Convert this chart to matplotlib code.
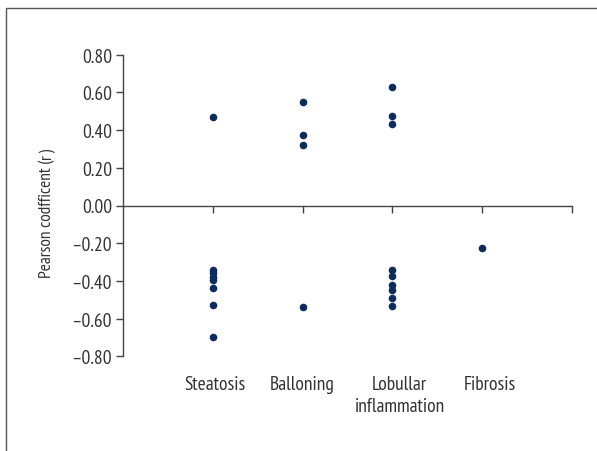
import matplotlib
matplotlib.use("Agg")
import matplotlib.pyplot as plt
from matplotlib import font_manager
from matplotlib.patches import Rectangle
from matplotlib.transforms import blended_transform_factory

categories = ["Steatosis", "Balloning", "Lobullar\ninflammation", "Fibrosis"]
steatosis = [0.47, -0.34, -0.36, -0.38, -0.395, -0.44, -0.53, -0.70]
balloning = [0.55, 0.375, 0.32, -0.54]
lobular = [0.63, 0.475, 0.43, -0.34, -0.375, -0.42, -0.45, -0.49, -0.535]
fibrosis = [-0.227]
series = [steatosis, balloning, lobular, fibrosis]
yticks = [-0.8, -0.6, -0.4, -0.2, 0.0, 0.2, 0.4, 0.6, 0.8]

names = {f.name for f in font_manager.fontManager.ttflist}
fam = 'DejaVu Sans'
for cand in ['PT Sans Narrow', 'Open Sans Condensed', 'Roboto Condensed', 'Archivo Narrow',
             'Asap Condensed', 'Barlow Condensed']:
    if cand in names:
        fam = cand
        break
plt.rcParams['font.family'] = [fam, 'DejaVu Sans']

txt = '#333333'
W, H = 597, 452
fig = plt.figure(figsize=(5.97, 4.52), dpi=100)
# partial frame around figure
fig.patches.append(Rectangle((6/W, -0.1), 1.2, 1 - 9/H + 0.1, transform=fig.transFigure,
                             fill=False, edgecolor='#555555', linewidth=1.0))
ax = fig.add_axes([123/W, 1 - 357.3/H, (572-123)/W, (357.3-55.7)/H])
ax.set_xlim(0, 5)
ax.set_ylim(-0.8, 0.8)
for i, vals in enumerate(series):
    ax.scatter([i + 1] * len(vals), vals, s=30, color='#0b2c5c', zorder=3, linewidths=0)

ax.spines['top'].set_visible(False)
ax.spines['right'].set_visible(False)
ax.spines['bottom'].set_position(('data', 0))
for s in ('left', 'bottom'):
    ax.spines[s].set_color('#444444')
    ax.spines[s].set_linewidth(1.0)
ax.set_xticks([1, 2, 3, 4, 5])
ax.set_xticklabels([])
ax.tick_params(axis='x', direction='out', length=5, color='#444444', width=1)
ax.set_yticks(yticks)
ax.set_yticklabels([f"{v:.2f}".replace('-', '\u2013') for v in yticks], fontsize=14, color=txt)
ax.tick_params(axis='y', direction='out', length=5, color='#444444', width=1, pad=3)

# y label in three pieces so that "r" is italic
pieces = [("Pearson codfficent (", 'normal'), ("r", 'italic'), (")", 'normal')]
xlab = 47 / W
texts = []
for s, st in pieces:
    texts.append(fig.text(xlab, 0.5, s, rotation=90, ha='center', va='bottom',
                          fontsize=12.5, color=txt, style=st, rotation_mode='default'))
fig.canvas.draw()
r = fig.canvas.get_renderer()
heights = [t.get_window_extent(r).height for t in texts]
total = sum(heights) + 1.5
ystart = (H - 213.5) - total / 2
y = ystart
for t, h in zip(texts, heights):
    t.set_y(y / H)
    y += h + (0.75 if t is texts[0] or t is texts[1] else 0)

tr = blended_transform_factory(ax.transData, ax.transAxes)
offs = [0.02, 0.0, 0.08, 0.08]
for i, c in enumerate(categories):
    ax.text(i + 1 + offs[i], -0.062, c, transform=tr,
            ha='center', va='top', fontsize=14, color=txt, linespacing=1.3)

fig.savefig("out.png", dpi=100)
